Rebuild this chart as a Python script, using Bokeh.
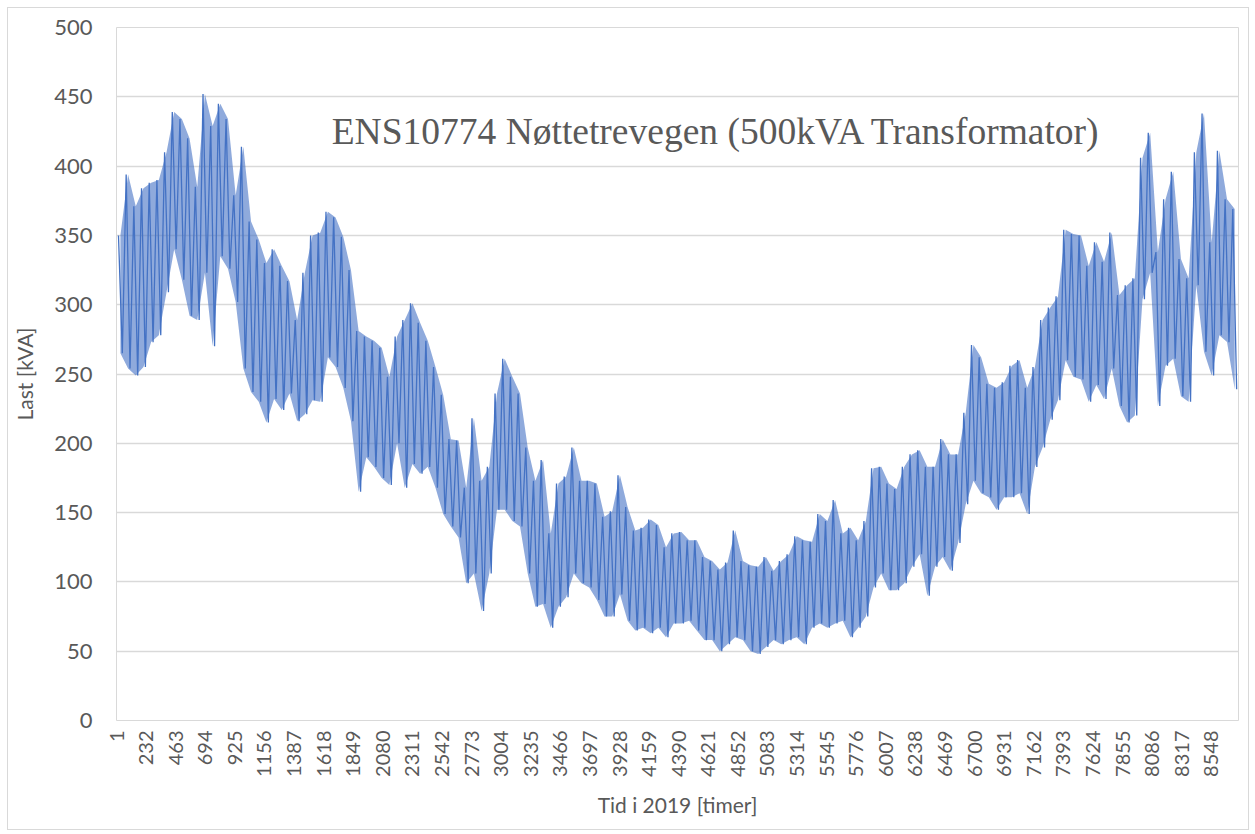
from math import pi
from bokeh.plotting import figure
from bokeh.models import Range1d, FixedTicker, Label
from bokeh.embed import file_html
from bokeh.resources import INLINE

title_text = "ENS10774 Nøttetrevegen (500kVA Transformator)"
x_title = "Tid i 2019 [timer]"
y_title = "Last [kVA]"
n_hours = 8760
x_ticks = list(range(1, n_hours + 1, 231))   # 1, 232, 463, ... 8548
y_ticks = list(range(0, 501, 50))

# upper (daily peak) envelope, one value per 60 hours
peaks = [350, 394, 371, 384, 388, 390, 410, 439, 434, 420,
         385, 452, 429, 445, 434, 379, 414, 360, 347, 330,
         340, 328, 317, 289, 323, 350, 352, 367, 363, 349,
         325, 281, 277, 274, 269, 248, 277, 289, 301, 287,
         274, 255, 235, 203, 202, 168, 218, 173, 183, 236,
         261, 248, 236, 197, 173, 188, 135, 171, 176, 197,
         173, 173, 171, 147, 151, 177, 154, 137, 139, 145,
         141, 125, 135, 136, 130, 130, 118, 115, 109, 114,
         137, 115, 112, 111, 118, 108, 115, 120, 133, 130,
         129, 149, 144, 159, 135, 139, 130, 144, 182, 183,
         171, 167, 183, 192, 195, 183, 183, 203, 192, 192,
         222, 271, 262, 243, 240, 244, 256, 260, 240, 255,
         289, 298, 306, 354, 351, 350, 328, 345, 331, 352,
         307, 314, 319, 406, 424, 338, 376, 396, 333, 319,
         410, 438, 345, 411, 376, 369]

# lower (night trough) envelope, one value per 60 hours
troughs = [265, 254, 249, 255, 273, 278, 309, 340, 318, 292,
           289, 323, 270, 335, 326, 302, 254, 237, 230, 215,
           232, 224, 236, 216, 221, 231, 230, 262, 255, 240,
           216, 165, 190, 183, 175, 170, 200, 168, 185, 178,
           183, 168, 149, 140, 132, 99, 106, 79, 106, 152,
           152, 144, 140, 106, 82, 84, 67, 82, 89, 106,
           99, 96, 87, 75, 75, 91, 72, 65, 67, 63,
           67, 60, 70, 70, 72, 65, 58, 58, 50, 55,
           60, 58, 50, 48, 53, 58, 55, 58, 60, 55,
           67, 70, 67, 70, 72, 60, 67, 75, 96, 106,
           94, 94, 99, 111, 120, 90, 111, 118, 108, 128,
           156, 173, 164, 161, 152, 161, 161, 164, 149, 183,
           197, 217, 231, 260, 248, 246, 230, 242, 232, 254,
           227, 215, 220, 304, 323, 227, 256, 261, 234, 230,
           314, 266, 249, 278, 273, 239]

step = n_hours / len(peaks)
hours, load = [], []
for i, (hi, lo) in enumerate(zip(peaks, troughs)):
    hours += [1 + i * step + 0.25 * step, 1 + i * step + 0.75 * step]
    load += [hi, lo]
centers = [1 + (i + 0.5) * step for i in range(len(peaks))]

BLUE = "#4472C4"
GRAY_TXT = "#595959"
GRAY_LN = "#d9d9d9"
FONT = "Lato"

p = figure(width=1242, height=823,
           x_range=Range1d(0.5, n_hours + 0.5), y_range=Range1d(0, 500),
           output_backend="svg", toolbar_location=None,
           min_border_left=108, min_border_right=12,
           min_border_top=19, min_border_bottom=111)
p.styles = {"margin-left": "7px", "margin-top": "7px",
            "border": "1px solid #d9d9d9"}
p.outline_line_color = GRAY_LN
p.background_fill_color = "white"
p.border_fill_color = "white"

p.varea(x=centers, y1=troughs, y2=peaks, fill_color=BLUE, fill_alpha=0.6)
p.line(hours, load, line_color=BLUE, line_width=1.3)

p.xgrid.grid_line_color = None
p.ygrid.grid_line_color = GRAY_LN
p.ygrid.grid_line_width = 1.3
p.ygrid.level = "underlay"

p.xaxis.ticker = FixedTicker(ticks=x_ticks)
p.yaxis.ticker = FixedTicker(ticks=y_ticks)
p.xaxis.major_label_orientation = pi / 2
for ax in (p.xaxis, p.yaxis):
    ax.axis_line_color = None
    ax.major_tick_line_color = None
    ax.minor_tick_line_color = None
    ax.major_tick_out = 0
    ax.major_tick_in = 0
    ax.major_label_text_color = GRAY_TXT
    ax.major_label_text_font = FONT
    ax.axis_label_text_color = GRAY_TXT
    ax.axis_label_text_font = FONT
    ax.axis_label_text_font_size = "21px"
    ax.axis_label_text_font_style = "normal"
p.xaxis.major_label_text_font_size = "20px"
p.yaxis.major_label_text_font_size = "22px"
p.xaxis.axis_label = x_title
p.yaxis.axis_label = y_title
p.xaxis.major_label_standoff = 10
p.yaxis.major_label_standoff = 24
p.xaxis.axis_label_standoff = 12
p.yaxis.axis_label_standoff = 14

p.add_layout(Label(x=4685, y=425, text=title_text,
                   text_font="Liberation Serif", text_font_size="37.5px",
                   text_color=GRAY_TXT, text_align="center",
                   text_baseline="middle"))

open("out.html", "w").write(file_html(p, INLINE))
